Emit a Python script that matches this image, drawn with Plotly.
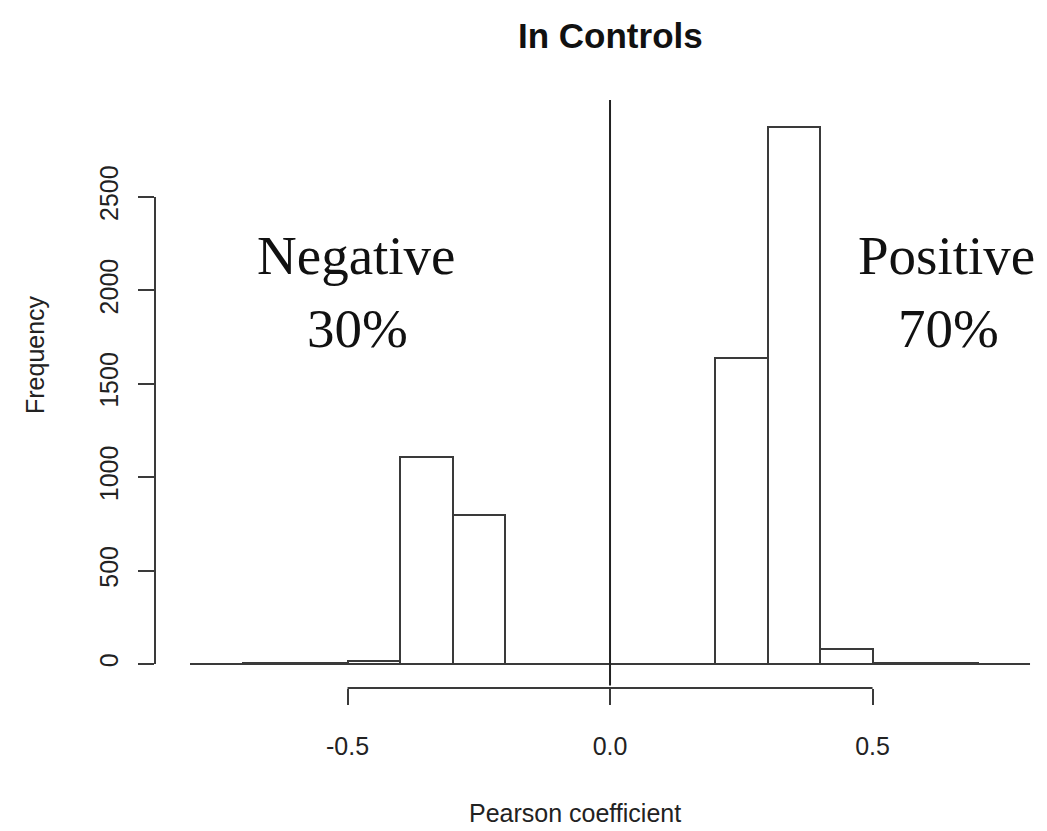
import plotly.graph_objects as go

# ---- data ----
bin_edges = [-0.8, -0.7, -0.6, -0.5, -0.4, -0.3, -0.2, -0.1, 0.0, 0.1, 0.2, 0.3, 0.4, 0.5, 0.6, 0.7]
counts = [2, 3, 5, 15, 1110, 795, 0, 0, 0, 0, 1640, 2875, 80, 5, 3]
x_tick_vals = [-0.5, 0.0, 0.5]
x_tick_text = ["-0.5", "0.0", "0.5"]
y_tick_vals = [0, 500, 1000, 1500, 2000, 2500]
y_tick_text = ["0", "500", "1000", "1500", "2000", "2500"]
title_text = "In Controls"
x_title = "Pearson coefficient"
y_title = "Frequency"
neg_label = ["Negative", "30%"]
pos_label = ["Positive", "70%"]

centers = [(a + b) / 2 for a, b in zip(bin_edges[:-1], bin_edges[1:])]
widths = [b - a for a, b in zip(bin_edges[:-1], bin_edges[1:])]

OFF = 8  # page body margin
W, H = 1047 - OFF, 831 - OFF
# plot area in page pixels: x 155..1040, y 100..688
ML = 155 - OFF
MR = W - (1040 - OFF)
MT = 100 - OFF
MB = H - (688 - OFF)
PW, PH = W - ML - MR, H - MT - MB


def px_x(p):
    return (p - OFF - ML) / PW


def px_y(p):
    return (H - MB - (p - OFF)) / PH


line_col = "#3a3a3a"
sans = "Liberation Sans, Arial, sans-serif"
serif = "Liberation Serif, Times New Roman, serif"

fig = go.Figure()
fig.add_trace(go.Bar(
    x=centers, y=counts, width=widths,
    marker=dict(color="white", line=dict(color=line_col, width=2)),
    showlegend=False, hoverinfo="skip",
))

fig.update_layout(
    width=W, height=H,
    margin=dict(l=ML, r=MR, t=MT, b=MB, pad=0),
    plot_bgcolor="white", paper_bgcolor="white",
    bargap=0,
    xaxis=dict(range=[-0.8667, 0.8190], tickvals=x_tick_vals, ticktext=x_tick_text,
               ticks="outside", ticklen=16, tickwidth=2, tickcolor=line_col,
               showline=False, showgrid=False, zeroline=False,
               tickfont=dict(family=sans, size=25, color="#222"),
               ticklabelstandoff=20),
    yaxis=dict(range=[-128.5, 3019], tickvals=y_tick_vals, ticktext=y_tick_text,
               ticks="outside", ticklen=16, tickwidth=2, tickcolor=line_col,
               tickangle=-90,
               showline=False, showgrid=False, zeroline=False,
               tickfont=dict(family=sans, size=25, color="#222"),
               ticklabelstandoff=10),
    shapes=[
        # R-style axis lines
        dict(type="line", xref="x", yref="paper", x0=x_tick_vals[0], x1=x_tick_vals[-1], y0=0, y1=0,
             line=dict(color=line_col, width=2)),
        dict(type="line", xref="paper", yref="y", x0=0, x1=0, y0=y_tick_vals[0], y1=y_tick_vals[-1],
             line=dict(color=line_col, width=2)),
        # horizontal reference at 0
        dict(type="line", xref="x", yref="y", x0=-0.8, x1=0.8, y0=0, y1=0,
             line=dict(color=line_col, width=2)),
        # vertical reference at 0
        dict(type="line", xref="x", yref="y", x0=0, x1=0, y0=-115, y1=3019,
             line=dict(color="#222", width=2)),
    ],
    annotations=[
        dict(text="<b>" + title_text + "</b>", xref="paper", yref="paper", x=px_x(610), y=px_y(35),
             showarrow=False, xanchor="center", yanchor="middle",
             font=dict(family=sans, size=35, color="#111")),
        dict(text=x_title, xref="paper", yref="paper", x=px_x(575), y=px_y(813),
             showarrow=False, xanchor="center", yanchor="middle",
             font=dict(family=sans, size=25, color="#222")),
        dict(text=y_title, xref="paper", yref="paper", x=px_x(35), y=px_y(355), textangle=-90,
             showarrow=False, xanchor="center", yanchor="middle",
             font=dict(family=sans, size=25, color="#222")),
        dict(text=neg_label[0], xref="paper", yref="paper", x=px_x(356), y=px_y(256),
             showarrow=False, xanchor="center", yanchor="middle",
             font=dict(family=serif, size=55, color="#111")),
        dict(text=neg_label[1], xref="paper", yref="paper", x=px_x(357), y=px_y(328),
             showarrow=False, xanchor="center", yanchor="middle",
             font=dict(family=serif, size=55, color="#111")),
        dict(text=pos_label[0], xref="paper", yref="paper", x=px_x(946), y=px_y(256),
             showarrow=False, xanchor="center", yanchor="middle",
             font=dict(family=serif, size=55, color="#111")),
        dict(text=pos_label[1], xref="paper", yref="paper", x=px_x(948), y=px_y(328),
             showarrow=False, xanchor="center", yanchor="middle",
             font=dict(family=serif, size=55, color="#111")),
    ],
)

fig.write_html("out.html")
